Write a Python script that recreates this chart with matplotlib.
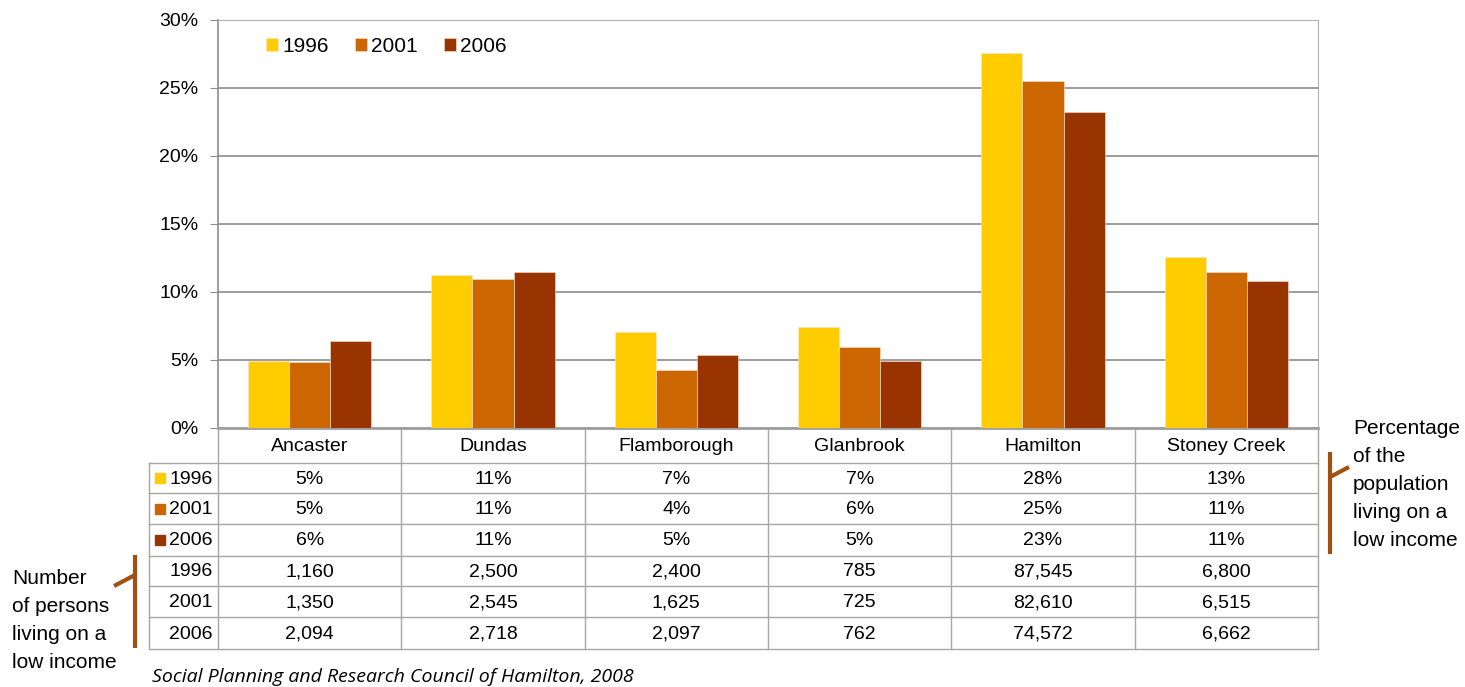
import numpy as np
import matplotlib
matplotlib.use('Agg')
import matplotlib.pyplot as plt
from matplotlib.patches import Rectangle

plt.rcParams['font.family'] = ['Liberation Sans', 'DejaVu Sans']

# data
places = ['Ancaster', 'Dundas', 'Flamborough', 'Glanbrook', 'Hamilton', 'Stoney Creek']
years = ['1996', '2001', '2006']
pct_1996 = [4.93, 11.25, 7.06, 7.43, 27.57, 12.6]
pct_2001 = [4.85, 10.96, 4.26, 5.96, 25.54, 11.49]
pct_2006 = [6.4, 11.47, 5.37, 4.93, 23.24, 10.83]
pct_labels = [
    ['5%', '11%', '7%', '7%', '28%', '13%'],
    ['5%', '11%', '4%', '6%', '25%', '11%'],
    ['6%', '11%', '5%', '5%', '23%', '11%'],
]
persons = [
    ['1,160', '2,500', '2,400', '785', '87,545', '6,800'],
    ['1,350', '2,545', '1,625', '725', '82,610', '6,515'],
    ['2,094', '2,718', '2,097', '762', '74,572', '6,662'],
]
colors = ['#FFCC00', '#CC6600', '#993300']
source = 'Social Planning and Research Council of Hamilton, 2008'
note_left = 'Number\nof persons\nliving on a\nlow income'
note_right = 'Percentage\nof the\npopulation\nliving on a\nlow income'

W, H = 1465, 687
fig = plt.figure(figsize=(W / 100, H / 100), dpi=100)

# plot area in pixels
L, R, T, B = 218, 1318, 20, 428
ax = fig.add_axes([L / W, 1 - B / H, (R - L) / W, (B - T) / H])

x = np.arange(len(places))
bw = 0.224
series = [pct_1996, pct_2001, pct_2006]
for i, vals in enumerate(series):
    ax.bar(x + (i - 1) * bw, vals, bw, color=colors[i], label=years[i],
           edgecolor='#f3e6d0', linewidth=0.4, zorder=3)

ax.set_xlim(-0.5, len(places) - 0.5)
ax.set_ylim(0, 30)
ax.set_yticks(np.arange(0, 31, 5))
ax.set_yticklabels(['%d%%' % v for v in range(0, 31, 5)], fontsize=14)
ax.set_xticks([])
ax.yaxis.grid(True, color='#8c8c8c', linewidth=1.2, zorder=0)
ax.tick_params(axis='y', length=6, color='#8c8c8c', pad=8)
for s in ['top', 'right']:
    ax.spines[s].set_color('#b0b0b0')
ax.spines['bottom'].set_color('#a0a0a0')
ax.spines['bottom'].set_linewidth(2)
ax.spines['left'].set_color('#8c8c8c')
ax.spines['left'].set_linewidth(1.2)

leg = ax.legend(loc='center left', bbox_to_anchor=(0.034, 0.936), ncol=3,
                frameon=False, fontsize=15, handlelength=0.58, handleheight=0.58,
                handletextpad=0.2, columnspacing=1.25, borderpad=0)

# overlay in pixel coordinates for table & notes
ov = fig.add_axes([0, 0, 1, 1], zorder=-1)
ov.set_xlim(0, W)
ov.set_ylim(H, 0)
ov.axis('off')

gc = '#a6a6a6'
ncol = len(places)
cw = (R - L) / ncol
col_edges = [L + i * cw for i in range(ncol + 1)]
row_edges = [B, 462.7, 493.3, 524, 555.7, 585.7, 617.3, 649]
LL = 149

# table grid
ov.plot([L, R], [row_edges[0], row_edges[0]], color=gc, lw=1)
for yy in row_edges[1:]:
    ov.plot([LL, R], [yy, yy], color=gc, lw=1)
for xx in col_edges:
    ov.plot([xx, xx], [row_edges[0], row_edges[-1]], color=gc, lw=1)
ov.plot([LL, LL], [row_edges[1], row_edges[-1]], color=gc, lw=1)

# header
for j, name in enumerate(places):
    ov.text((col_edges[j] + col_edges[j + 1]) / 2, (row_edges[0] + row_edges[1]) / 2 + 1,
            name, ha='center', va='center', fontsize=14)

rows = pct_labels + persons
for r in range(6):
    yc = (row_edges[r + 1] + row_edges[r + 2]) / 2 + 1
    ov.text(L - 5, yc, years[r % 3], ha='right', va='center', fontsize=14)
    if r < 3:
        ov.add_patch(Rectangle((155, yc - 6), 10, 10, color=colors[r]))
    for j in range(ncol):
        ov.text((col_edges[j] + col_edges[j + 1]) / 2, yc, rows[r][j],
                ha='center', va='center', fontsize=14)

# brackets
bc = '#A0500F'
ov.plot([135, 135], [555, 648], color=bc, lw=3, solid_capstyle='butt')
ov.plot([135, 114], [575, 586], color=bc, lw=3, solid_capstyle='butt')
ov.plot([1330, 1330], [452, 554], color=bc, lw=3, solid_capstyle='butt')
ov.plot([1330, 1349], [477, 467], color=bc, lw=3, solid_capstyle='butt')

ov.text(12, 569, note_left, ha='left', va='top', fontsize=15, linespacing=1.6)
ov.text(1353, 419, note_right, ha='left', va='top', fontsize=15, linespacing=1.6)

ov.text(152, 677, source, ha='left', va='center', fontsize=14, style='italic',
        family=['Open Sans', 'DejaVu Sans'])

fig.savefig('out.png', dpi=100)
